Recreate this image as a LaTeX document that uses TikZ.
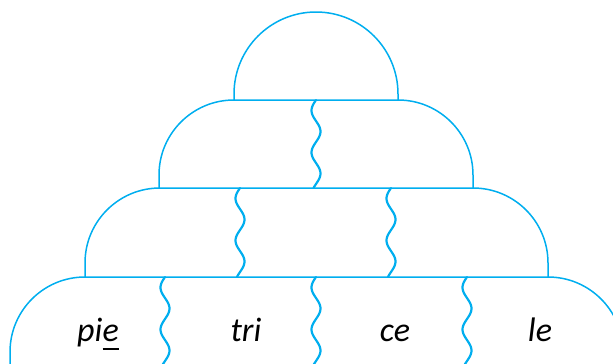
\documentclass[tikz,border=0pt]{standalone}
\usepackage{fontspec}
\setmainfont{Carlito}
\newcommand{\thickul}[1]{\setbox0\hbox{#1}\rlap{\rule[-9pt]{\wd0}{2pt}}\box0}
\definecolor{cyanline}{RGB}{0,174,239}
\tikzset{
  outline/.style={draw=cyanline, line width=1.5pt, line join=round},
  wave/.style={draw=cyanline, line width=2.2pt, line cap=round},
  syl/.style={anchor=base, inner sep=0pt, font=\fontsize{34}{40}\selectfont\itshape}
}
\begin{document}
\begin{tikzpicture}[x=1pt,y=-1pt]
\useasboundingbox (0,0) rectangle (613,364);
\clip (0,0) rectangle (613,364);
% dome
\path[outline] (234,100) -- (234,94) arc[start angle=180, end angle=360, radius=82] -- (398,100);
% tier 2
\path[outline] (159,188) -- (159,175) arc[start angle=180, end angle=270, radius=75]
  -- (398,100) arc[start angle=270, end angle=360, radius=75] -- (473,188);
% tier 3
\path[outline] (85,277) -- (85,263) arc[start angle=180, end angle=270, radius=75]
  -- (473,188) arc[start angle=270, end angle=360, radius=75] -- (548,277);
% tier 4
\path[outline] (10,370) -- (10,352) arc[start angle=180, end angle=270, radius=75]
  -- (548,277) arc[start angle=270, end angle=360, radius=75] -- (623,370);
% waves
\draw[wave] plot[smooth, domain=0:88, samples=50] ({316-4.5*sin(8.571*\x)}, {100+\x});
\draw[wave] plot[smooth, domain=0:89, samples=50] ({240-4.5*sin(8.571*\x)}, {188+\x});
\draw[wave] plot[smooth, domain=0:89, samples=50] ({391-4.5*sin(8.571*\x)}, {188+\x});
\draw[wave] plot[smooth, domain=0:92, samples=50] ({165-4.5*sin(8.571*\x)}, {277+\x});
\draw[wave] plot[smooth, domain=0:92, samples=50] ({316-4.5*sin(8.571*\x)}, {277+\x});
\draw[wave] plot[smooth, domain=0:92, samples=50] ({467-4.5*sin(8.571*\x)}, {277+\x});
% syllables
\node[syl] (s1) at (98,341) {pi\thickul{e}};
\node[syl] (s2) at (246,341) {tri};
\node[syl] (s3) at (395,341) {ce};
\node[syl] (s4) at (540,341) {le};
\end{tikzpicture}
\end{document}
